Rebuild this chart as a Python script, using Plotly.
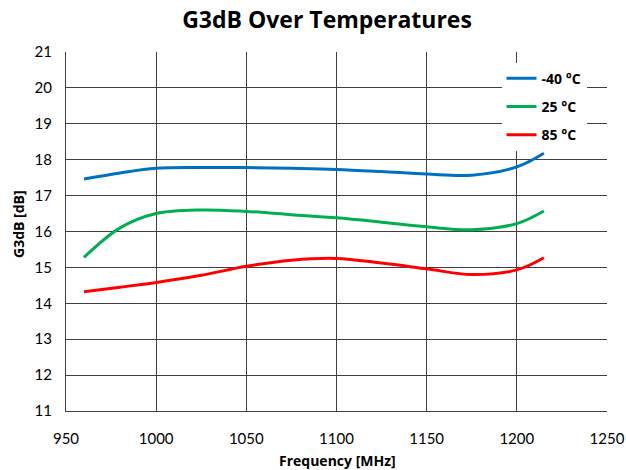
import plotly.graph_objects as go

# Frequency sweep points (MHz)
freq = [960, 980, 1000, 1025, 1050, 1075, 1100, 1125, 1150, 1175, 1200, 1215]

# G3dB gain (dB) at each temperature
g_m40 = [17.46, 17.63, 17.76, 17.78, 17.78, 17.76, 17.73, 17.67, 17.60, 17.57, 17.80, 18.18]
g_25 = [15.28, 16.10, 16.50, 16.60, 16.56, 16.47, 16.38, 16.26, 16.13, 16.05, 16.22, 16.57]
g_85 = [14.32, 14.45, 14.58, 14.78, 15.03, 15.20, 15.25, 15.12, 14.96, 14.80, 14.93, 15.27]

series = [
    ("-40 °C", g_m40, "#0070C0"),
    ("25 °C", g_25, "#00B050"),
    ("85 °C", g_85, "#FF0000"),
]

x_ticks = [950, 1000, 1050, 1100, 1150, 1200, 1250]
y_ticks = list(range(11, 22))

W, H = 626, 470
FONT = "Lato, 'Open Sans', sans-serif"
BOLD_FONT = "'Open Sans', Lato, sans-serif"

fig = go.Figure()
for i, (name, vals, color) in enumerate(series):
    fig.add_trace(go.Scatter(
        x=freq, y=vals, name=name, mode="lines",
        line=dict(color=color, width=3, shape="spline", smoothing=1.0),
        legendgroup=f"g{i}",
    ))

fig.update_layout(
    width=W, height=H,
    margin=dict(l=66, r=19, t=52, b=59),
    paper_bgcolor="white", plot_bgcolor="white",
    font=dict(family=FONT, color="black", size=15),
    title=dict(text="G3dB Over Temperatures", x=327 / W, xref="container",
               xanchor="center", y=1 - 20 / H, yref="container", yanchor="middle",
               font=dict(size=23, family=BOLD_FONT, color="black", weight="bold")),
    showlegend=True,
    legend=dict(
        x=0.805, y=0.97, xanchor="left", yanchor="top",
        bgcolor="white", borderwidth=0,
        font=dict(size=14, family=BOLD_FONT, color="black", weight="bold"),
        tracegroupgap=7, traceorder="grouped",
        itemwidth=30,
    ),
)

# Axis titles placed as paper annotations for precise positioning
fig.add_annotation(
    text="Frequency [MHz]", xref="paper", yref="paper",
    x=(337 - 66) / (W - 66 - 19), y=-(460 - 411) / (411 - 52),
    xanchor="center", yanchor="middle", showarrow=False,
    font=dict(size=14, family=BOLD_FONT, weight="bold", color="black"),
)
fig.add_annotation(
    text="G3dB [dB]", xref="paper", yref="paper", textangle=-90,
    x=-(66 - 18) / (W - 66 - 19), y=(411 - 224) / (411 - 52),
    xanchor="center", yanchor="middle", showarrow=False,
    font=dict(size=14, family=BOLD_FONT, weight="bold", color="black"),
)

fig.update_xaxes(
    range=[950, 1250], tickvals=x_ticks, ticks="", automargin=False,
    showgrid=True, gridcolor="#3f3f3f", gridwidth=1,
    showline=True, linecolor="#3f3f3f", linewidth=1,
    zeroline=False, tickfont=dict(size=15), ticklabelstandoff=14,
)
fig.update_yaxes(
    range=[11, 21], tickvals=y_ticks, ticks="", automargin=False,
    showgrid=True, gridcolor="#3f3f3f", gridwidth=1,
    showline=True, linecolor="#3f3f3f", linewidth=1,
    zeroline=False, tickfont=dict(size=15), ticklabelstandoff=10,
)

fig.write_html("out.html")
